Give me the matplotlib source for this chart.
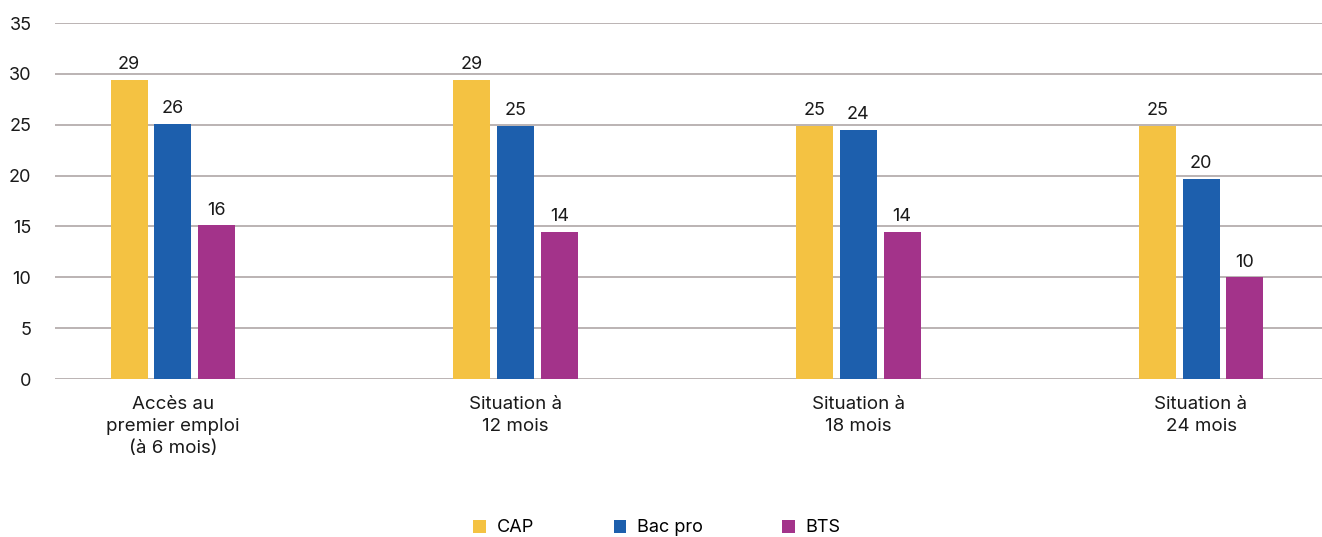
import matplotlib
matplotlib.use("Agg")
import matplotlib.pyplot as plt
from matplotlib.patches import Patch
import numpy as np

categories = ["Accès au\npremier emploi\n(à 6 mois)", "Situation à\n12 mois", "Situation à\n18 mois", "Situation à\n24 mois"]
series_names = ["CAP", "Bac pro", "BTS"]
cap = [29.4, 29.4, 24.9, 24.9]
bac_pro = [25.1, 24.9, 24.5, 19.7]
bts = [15.1, 14.5, 14.5, 10.0]
cap_labels = ["29", "29", "25", "25"]
bac_pro_labels = ["26", "25", "24", "20"]
bts_labels = ["16", "14", "14", "10"]
yticks = [0, 5, 10, 15, 20, 25, 30, 35]

colors = ["#F4C242", "#1D5FAD", "#A3338A"]
plt.rcParams['font.family'] = ['Inter', 'DejaVu Sans']

fig = plt.figure(figsize=(13.22, 5.37), dpi=100)
ax = fig.add_axes([55/1322, 1-379/537, 1-55/1322, (379-23)/537])

x = np.arange(len(categories))
width = 0.108
step = 0.128
fs = 13
for i, (vals, labs) in enumerate(zip([cap, bac_pro, bts], [cap_labels, bac_pro_labels, bts_labels])):
    pos = x + (i-1)*step
    ax.bar(pos, vals, width=width, color=colors[i], zorder=3)
    for p, v, l in zip(pos, vals, labs):
        ax.text(p, v + 0.65, l, ha='center', va='bottom', fontsize=fs, color='#1a1a1a')

ax.set_ylim(0, 35)
ax.set_xlim(-0.344, 3.353)
ax.set_yticks(yticks)
ax.set_yticklabels([str(t) for t in yticks], fontsize=fs, color='#1a1a1a')
ax.yaxis.grid(True, color='#b5aeae', linewidth=1.3, zorder=0)
ax.set_axisbelow(True)
ax.tick_params(axis='y', length=0, pad=17)
ax.tick_params(axis='x', length=0, pad=12)
ax.set_xticks(x)
ax.set_xticklabels(categories, fontsize=13.5, color='#1a1a1a', linespacing=1.4)
for s in ax.spines.values():
    s.set_visible(False)

handles = [Patch(facecolor=c, edgecolor='none') for c in colors]
fig.legend(handles, series_names, loc='center', bbox_to_anchor=(0.497, 1-528/537), ncol=3,
           frameon=False, fontsize=fs, handlelength=0.7, handleheight=0.7,
           handletextpad=0.6, columnspacing=4.4)

fig.savefig("out.png", dpi=100)
